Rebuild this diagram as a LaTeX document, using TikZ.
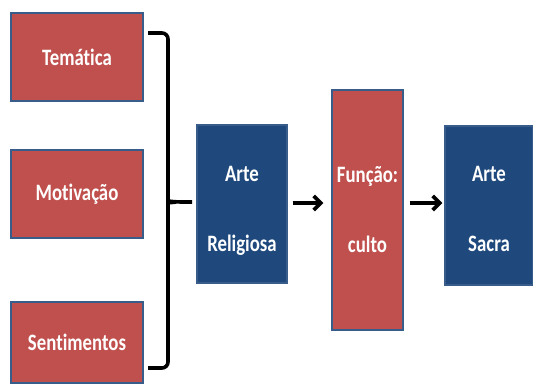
\documentclass[tikz,border=0pt]{standalone}
\usepackage{fontspec}
\setmainfont{Carlito}
\newfontfamily\boxfont[Ligatures=NoCommon, FakeStretch=0.8,
  BoldFeatures={FakeStretch=0.8}]{Carlito}
\usetikzlibrary{arrows.meta, positioning}

\definecolor{boxred}{HTML}{C0504D}
\definecolor{boxblue}{HTML}{1F497D}
\definecolor{edgeblue}{HTML}{385D8A}

\tikzset{
  redbox/.style={draw=edgeblue, line width=1.2pt, fill=boxred, text=white,
    font=\boxfont\bfseries\fontsize{23.5}{70}\selectfont, align=center, inner sep=0pt},
  bluebox/.style={redbox, fill=boxblue},
  flow/.style={-{Straight Barb[length=7pt,width=14pt]}, line width=3.8pt},
}

\begin{document}
\begin{tikzpicture}[x=1pt, y=-1pt]
        \useasboundingbox (0,0) rectangle (533,385);
        \node[redbox, minimum width=132pt, minimum height=88pt] (tema) at (77,57) {Temática};
        \node[redbox, minimum width=132pt, minimum height=88pt] (motiv) at (77,194) {Motivação};
        \node[redbox, minimum width=132pt, minimum height=81pt] (sent) at (77,342.5) {Sentimentos};
        \node[bluebox, minimum width=90pt, minimum height=158pt] (relig) at (242,204) {\rule{0pt}{28pt}Arte\\Religiosa};
        \node[redbox, minimum width=71pt, minimum height=240pt] (funcao) at (367.5,210) {Função:\\culto};
        \node[bluebox, minimum width=88pt, minimum height=159pt] (sacra) at (489,205.5) {\rule{0pt}{22pt}Arte\\Sacra};
        % chave
        \draw[line width=3.6pt, rounded corners=6pt] (148,33) -- (168,33) -- (168,196)
            .. controls (168,201) .. (176,202) -- (192,202);
        \draw[line width=3.6pt, rounded corners=6pt] (148,368) -- (168,368) -- (168,208)
            .. controls (168,203) .. (176,202);
        \draw[flow, shorten <=5pt, shorten >=8pt] (relig.east |- 0,203) -- (funcao.west |- 0,203);
        \draw[flow, shorten <=6pt, shorten >=2pt] (funcao.east |- 0,203) -- (sacra.west |- 0,203);
\end{tikzpicture}
\end{document}
